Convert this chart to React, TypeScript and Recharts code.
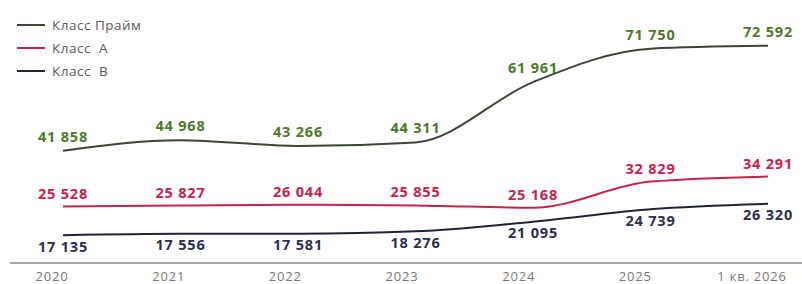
import { useEffect } from 'react';
import { LineChart, Line, XAxis, YAxis, LabelList } from 'recharts';

// Periods on the x axis
const periods = ['2020', '2021', '2022', '2023', '2024', '2025', '1 кв. 2026'];

// Series values by class
const primeValues = [41858, 44968, 43266, 44311, 61961, 71750, 72592];
const classAValues = [25528, 25827, 26044, 25855, 25168, 32829, 34291];
const classBValues = [17135, 17556, 17581, 18276, 21095, 24739, 26320];

const seriesNames = ['Класс Прайм', 'Класс  А', 'Класс  В'];

const data = periods.map((period, i) => ({
  period,
  prime: primeValues[i],
  classA: classAValues[i],
  classB: classBValues[i],
}));

const PRIME_LINE = '#3b4636';
const PRIME_TEXT = '#4c7a2c';
const A_COLOR = '#c8224c';
const B_LINE = '#1f2438';
const B_TEXT = '#2a3050';

const legendItems = [
  { name: seriesNames[0], color: PRIME_LINE },
  { name: seriesNames[1], color: A_COLOR },
  { name: seriesNames[2], color: B_LINE },
];

// Format numbers with a space as thousands separator
const formatValue = (v: number) => String(v).replace(/\B(?=(\d{3})+(?!\d))/g, ' ');

const labelFont = { fontFamily: 'Open Sans', fontSize: 14.5, fontWeight: 700, letterSpacing: 0.8 };

function ChartLegend() {
  return (
    <div style={{ position: 'absolute', top: 16, left: 17, display: 'flex', flexDirection: 'column', gap: 5 }}>
      {legendItems.map((item) => (
        <div key={item.name} style={{ display: 'flex', alignItems: 'center', height: 18 }}>
          <span style={{ display: 'inline-block', width: 28, height: 2, background: item.color, marginRight: 7 }} />
          <span style={{ fontFamily: 'Open Sans', fontSize: 13.5, letterSpacing: 0.5, color: '#5a5a5a', whiteSpace: 'pre' }}>{item.name}</span>
        </div>
      ))}
    </div>
  );
}

export default function App() {
  useEffect(() => {
    document.body.style.margin = '0';
  }, []);

  return (
    <div style={{ position: 'relative', width: 802, height: 284, background: '#fff' }}>
      <LineChart width={802} height={284} data={data} margin={{ top: 0, right: 0, left: 10, bottom: 0 }}>
        {/* hidden axis that places the points */}
        <XAxis
          xAxisId="pts"
          dataKey="period"
          orientation="top"
          height={0}
          hide
          padding={{ left: 53, right: 34 }}
        />
        {/* visible axis for the period labels */}
        <XAxis
          xAxisId="ticks"
          dataKey="period"
          height={21}
          padding={{ left: 42, right: 50 }}
          axisLine={{ stroke: '#8a8a8a', strokeWidth: 1.5 }}
          tickLine={false}
          tick={{ fontFamily: 'Open Sans', fontSize: 13, fill: '#777', letterSpacing: 0.8 }}
          tickMargin={3}
          interval={0}
        />
        <YAxis hide domain={[9000, 86000]} />
        <Line
          xAxisId="pts"
          type="monotone"
          dataKey="prime"
          stroke={PRIME_LINE}
          strokeWidth={2}
          dot={false}
          isAnimationActive={false}
        >
          <LabelList dataKey="prime" position="top" offset={9} formatter={(v: number) => formatValue(v)} style={{ ...labelFont, fill: PRIME_TEXT }} />
        </Line>
        <Line
          xAxisId="pts"
          type="monotone"
          dataKey="classA"
          stroke={A_COLOR}
          strokeWidth={2}
          dot={false}
          isAnimationActive={false}
        >
          <LabelList dataKey="classA" position="top" offset={8} formatter={(v: number) => formatValue(v)} style={{ ...labelFont, fill: A_COLOR }} />
        </Line>
        <Line
          xAxisId="pts"
          type="monotone"
          dataKey="classB"
          stroke={B_LINE}
          strokeWidth={2}
          dot={false}
          isAnimationActive={false}
        >
          <LabelList dataKey="classB" position="bottom" offset={6} formatter={(v: number) => formatValue(v)} style={{ ...labelFont, fill: B_TEXT }} />
        </Line>
      </LineChart>
      <ChartLegend />
    </div>
  );
}
